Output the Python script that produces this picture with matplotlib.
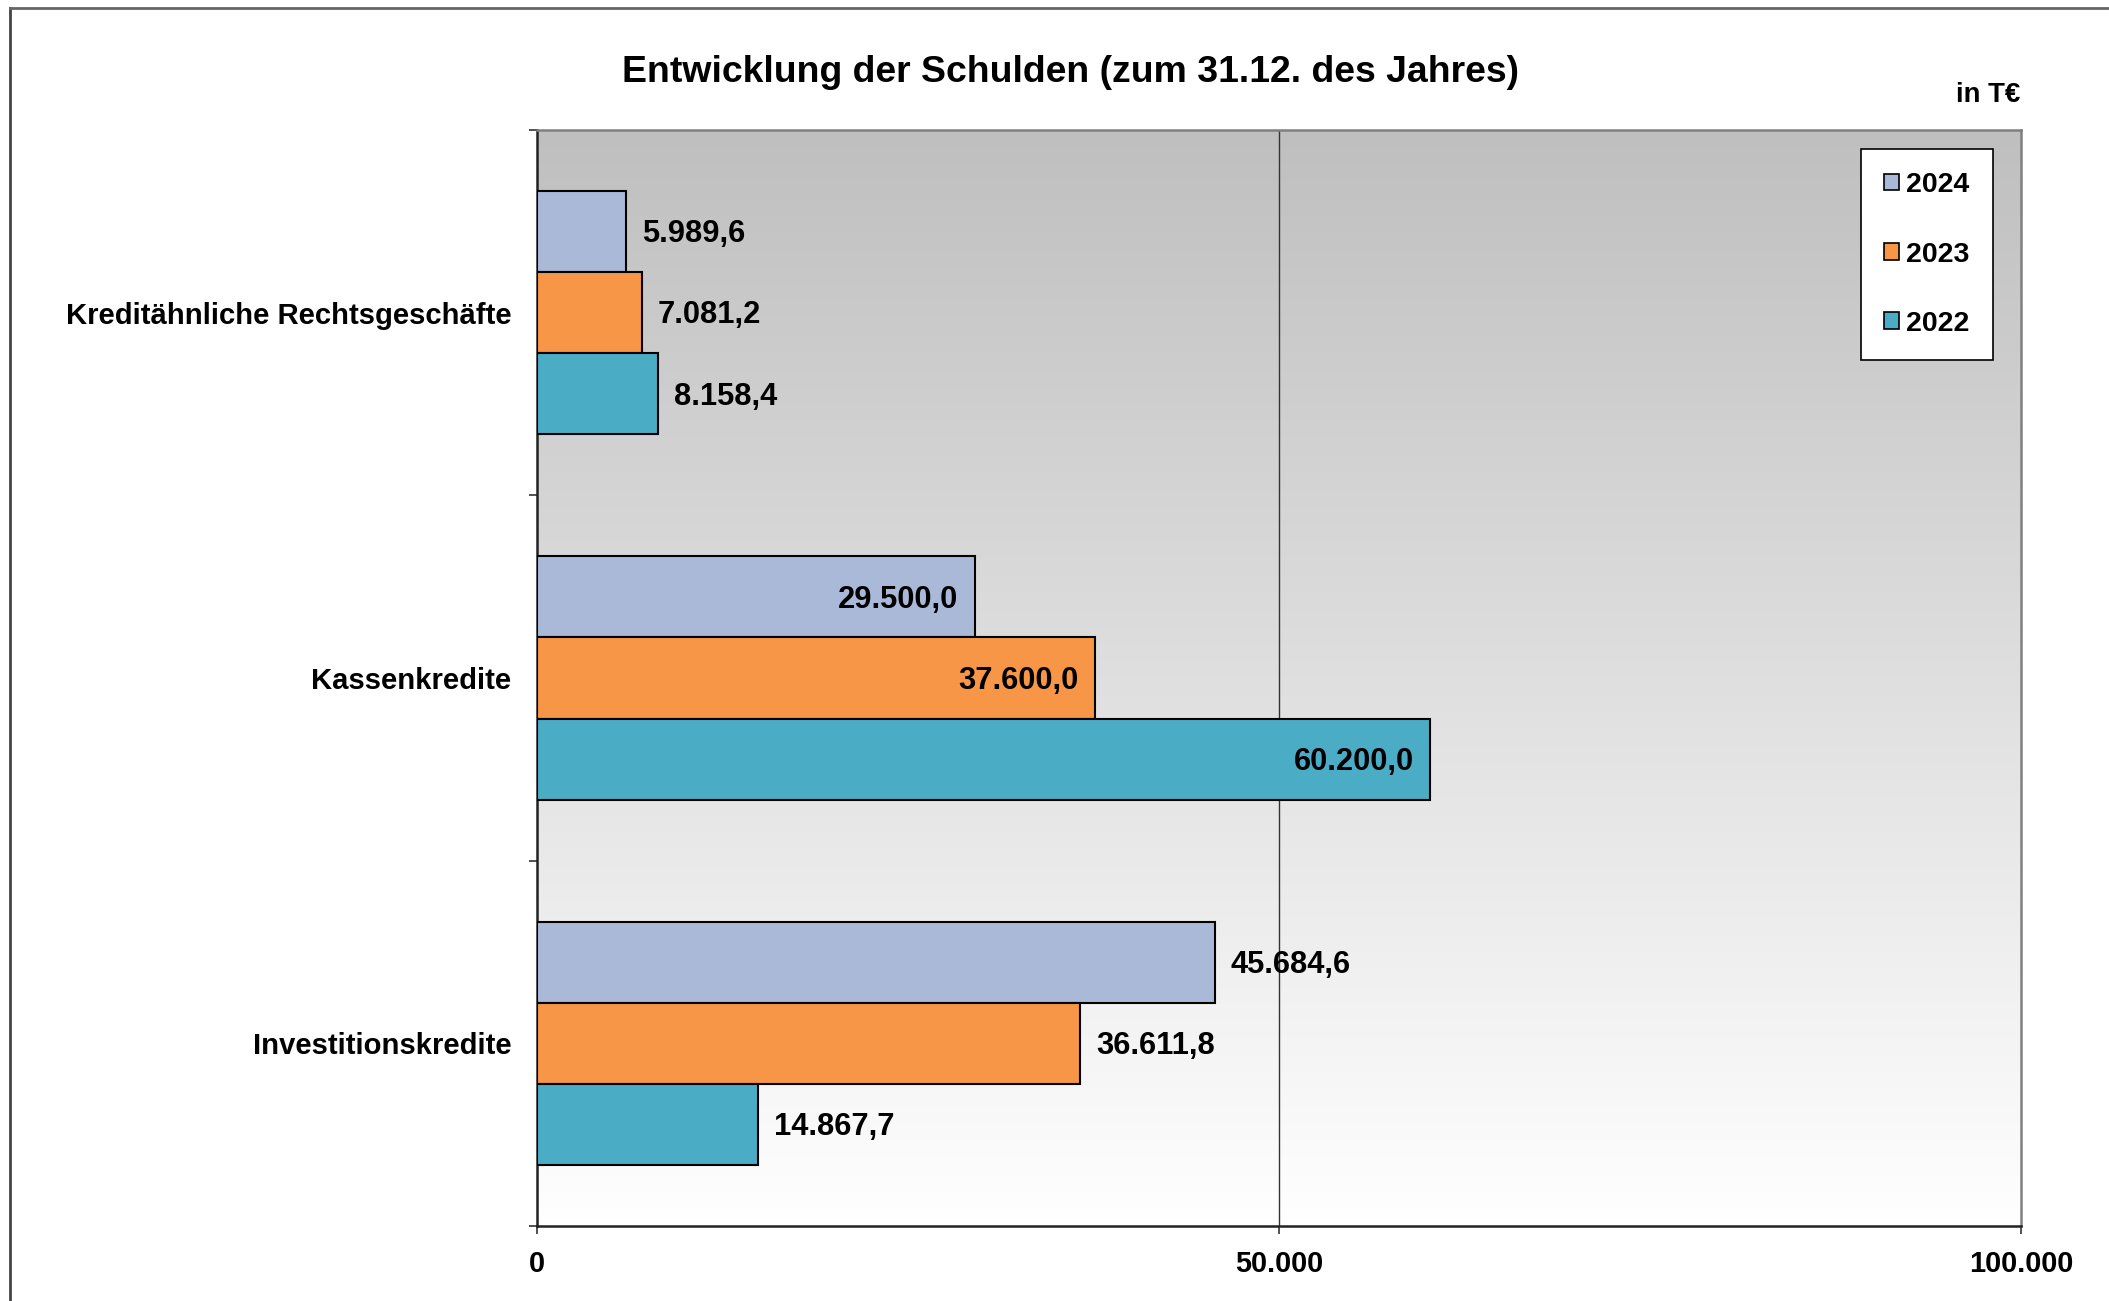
import numpy as np
import matplotlib
matplotlib.use("Agg")
import matplotlib.pyplot as plt
from matplotlib.patches import Patch
from matplotlib.lines import Line2D
from matplotlib.colors import LinearSegmentedColormap

plt.rcParams['font.family'] = ['Liberation Sans', 'DejaVu Sans']
plt.rcParams['font.weight'] = 'bold'

categories = ["Kreditähnliche Rechtsgeschäfte", "Kassenkredite", "Investitionskredite"]
years = ["2024", "2023", "2022"]
values_2024 = [5989.6, 29500.0, 45684.6]
values_2023 = [7081.2, 37600.0, 36611.8]
values_2022 = [8158.4, 60200.0, 14867.7]
xticks = [0, 50000, 100000]
xtick_labels = ["0", "50.000", "100.000"]
title = "Entwicklung der Schulden (zum 31.12. des Jahres)"
unit = "in T€"

colors = {"2024": "#AAB9D8", "2023": "#F79646", "2022": "#4BACC6"}
series = {"2024": values_2024, "2023": values_2023, "2022": values_2022}
offsets = {"2024": 0.222, "2023": 0.0, "2022": -0.222}
inside_cat = "Kassenkredite"

def de_fmt(v):
    s = f"{v:,.1f}"
    return s.replace(",", "X").replace(".", ",").replace("X", ".")

fig = plt.figure(figsize=(21.09, 13.01), dpi=100)
ax = fig.add_axes([0.2546, 0.0577, 0.9583 - 0.2546, 0.9001 - 0.0577])

# gradient background: grey at top, white at bottom
grad = np.linspace(0, 1, 256).reshape(-1, 1)
cmap = LinearSegmentedColormap.from_list("g", ["#FFFFFF", "#BFBFBF"])
ax.imshow(grad, extent=[0, 100000, -0.5, 2.5], aspect='auto', cmap=cmap,
          zorder=0, origin='lower')

ypos = {c: 2 - i for i, c in enumerate(categories)}
bh = 0.222
for yr in years:
    for i, c in enumerate(categories):
        v = series[yr][i]
        y = ypos[c] + offsets[yr]
        ax.barh(y, v, height=bh, color=colors[yr], edgecolor='black', linewidth=1.5, zorder=3)
        if c == inside_cat:
            ax.annotate(de_fmt(v), (v, y), xytext=(-12, -2), textcoords='offset points',
                        ha='right', va='center', fontsize=22.2, fontweight='bold', zorder=4)
        else:
            ax.annotate(de_fmt(v), (v, y), xytext=(11.5, -2), textcoords='offset points',
                        ha='left', va='center', fontsize=22.2, fontweight='bold', zorder=4)

ax.axvline(50000, color='#333333', lw=1.0, zorder=1)

ax.set_xlim(0, 100000)
ax.set_ylim(-0.5, 2.5)
ax.set_xticks(xticks)
ax.set_xticklabels(xtick_labels, fontsize=20.8, fontweight='bold')
ax.set_yticks([ypos[c] for c in categories])
ax.set_yticklabels(categories, fontsize=21.1, fontweight='bold')
ax.tick_params(axis='y', which='major', length=0, pad=18.5)
ax.set_yticks([-0.5, 0.5, 1.5, 2.5], minor=True)
ax.tick_params(axis='y', which='minor', length=6, width=1.2, direction='out', color='#333333')
ax.tick_params(axis='x', which='major', length=6, width=1.2, direction='out', pad=11, color='#333333')

for s in ['left', 'bottom']:
    ax.spines[s].set_color('#222222')
    ax.spines[s].set_linewidth(1.8)
for s in ['top', 'right']:
    ax.spines[s].set_color('#808080')
    ax.spines[s].set_linewidth(1.8)

handles = [Patch(facecolor=colors[y], edgecolor='black', linewidth=1.2, label=y) for y in years]
leg = ax.legend(handles=handles, loc='upper right', bbox_to_anchor=(0.981, 0.9827),
                fontsize=20.5, frameon=True, fancybox=False, edgecolor='black',
                handlelength=0.52, handleheight=0.52, handletextpad=0.25,
                labelspacing=1.52, borderpad=0.82, borderaxespad=0)
leg.get_frame().set_linewidth(1.2)
leg.get_frame().set_facecolor('white')
leg.get_frame().set_alpha(1)
leg.set_zorder(5)
for t in leg.get_texts():
    t.set_fontweight('bold')

fig.text(1070 / 2109, 1 - 72 / 1301, title, ha='center', va='center', fontsize=26.9, fontweight='bold')
fig.text(2020 / 2109, 1 - 95 / 1301, unit, ha='right', va='center', fontsize=19.9, fontweight='bold')

# outer frame lines (left and top)
fig.add_artist(Line2D([10 / 2109, 10 / 2109], [0, 1 - 8 / 1301], transform=fig.transFigure,
                      color='#444444', lw=2))
fig.add_artist(Line2D([10 / 2109, 1], [1 - 8 / 1301, 1 - 8 / 1301], transform=fig.transFigure,
                      color='#666666', lw=2))

fig.savefig("out.png", dpi=100)
